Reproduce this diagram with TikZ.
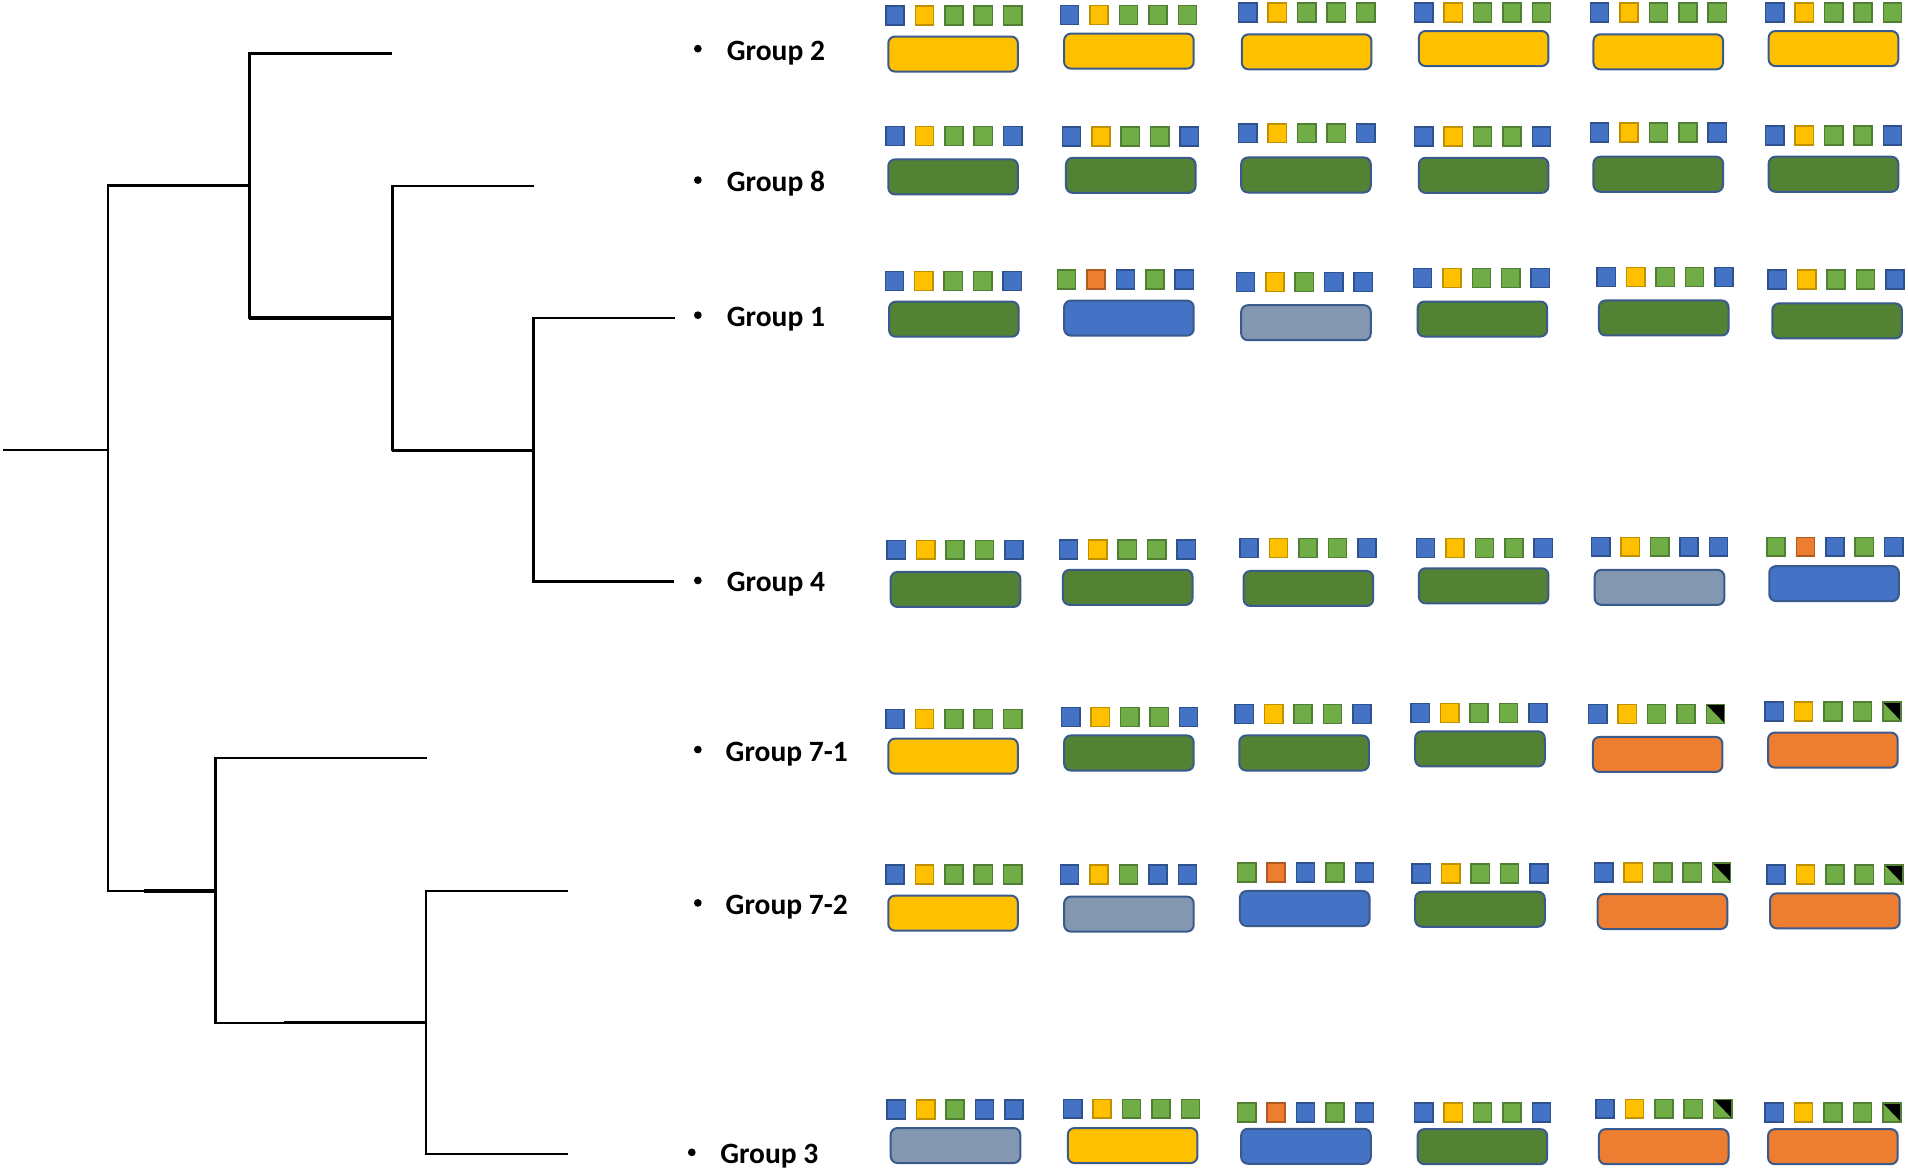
\documentclass[tikz,border=0pt]{standalone}
\usepackage{fontspec}
\setmainfont{Carlito}
\definecolor{fB}{HTML}{4472C4}\definecolor{bB}{HTML}{2F528F}
\definecolor{fY}{HTML}{FFC000}\definecolor{bY}{HTML}{BF9000}
\definecolor{fG}{HTML}{70AD47}\definecolor{bG}{HTML}{507E32}
\definecolor{fO}{HTML}{ED7D31}\definecolor{bO}{HTML}{AE5A21}
\definecolor{rY}{HTML}{FFC000}\definecolor{rG}{HTML}{548235}
\definecolor{rB}{HTML}{4472C4}\definecolor{rS}{HTML}{8497B0}
\definecolor{rO}{HTML}{ED7D31}\definecolor{rE}{HTML}{3A5A8C}
\tikzset{
  lnk/.style={line width=0.95pt, black},
  lnkb/.style={line width=1.35pt, black},
  lbl/.style={anchor=base west, inner sep=0pt, font=\fontsize{11.8}{14}\selectfont\bfseries},
  bul/.style={circle, fill=black, inner sep=0pt, minimum size=3.1pt},
  bar/.style={draw=rE, line width=0.8pt, rounded corners=2.7pt},
  cB/.style={fill=fB, draw=bB, line width=0.6pt},
  cY/.style={fill=fY, draw=bY, line width=0.6pt},
  cG/.style={fill=fG, draw=bG, line width=0.6pt},
  cO/.style={fill=fO, draw=bO, line width=0.6pt},
  cD/.style={fill=fG, draw=bG, line width=0.6pt,
    path picture={\fill[black] (path picture bounding box.north west) -- (path picture bounding box.north east) -- (path picture bounding box.south east) -- cycle;}},
}
\newcommand\cellbox[6]{%
  \foreach \c [count=\i from 0] in {#5} {
    \draw[c\c] ({#1+24.2*\i},#2) rectangle ++(15,15.5);
  }
  \draw[bar, fill=#6] (#3,#4) rectangle ++(106.5,28.8);
}
\begin{document}
\begin{tikzpicture}[x=0.4867pt,y=-0.4867pt]
\useasboundingbox (0,0) rectangle (1568,961.5);
% dendrogram
\coordinate (R0) at (2.5,370);
\coordinate (Root) at (89,370);
\coordinate (J2814) at (205,152.5);
\coordinate (J814) at (322.5,261.3);
\coordinate (J14) at (438.5,370);
\coordinate (J7) at (177,732.3);
\coordinate (J7273) at (350,840.5);
\coordinate (L2) at (322,44);
\coordinate (L8) at (438.5,152.7);
\coordinate (L1) at (555,261.3);
\coordinate (L4) at (554,478);
\coordinate (L71) at (351,622.8);
\coordinate (L72) at (466.5,732.3);
\coordinate (L3) at (466.5,948.5);
\draw[lnk] (R0) -- (Root);
\draw[lnk] (L1) -| (J14) |- (L4);
\draw[lnk] (J14) -| (J814) |- (L8);
\draw[lnk] (J814) -| (J2814) |- (L2);
\draw[lnk] (J2814) -| (Root) |- (J7);
\draw[lnk] (J7) |- (L71);
\draw[lnk] (J7) |- (J7273);
\draw[lnk] (J7273) |- (L72);
\draw[lnk] (J7273) |- (L3);
\draw[lnkb] (J814) -- (J814 -| J2814);
\draw[lnkb] (J14) -- (J14 -| J814);
\draw[lnkb] (118.5,732.3) -- (J7);
\draw[lnkb] (233,840.5) -- (J7273);
% labels
\node[bul] (b2) at (573.5,40) {};
\node[lbl] (g2) at (597,49.5) {Group 2};
\node[bul] (b8) at (573.5,148) {};
\node[lbl] (g8) at (597,157.5) {Group 8};
\node[bul] (b1) at (573.5,259) {};
\node[lbl] (g1) at (597,268.5) {Group 1};
\node[bul] (b4) at (573.5,477) {};
\node[lbl] (g4) at (597,486.5) {Group 4};
\node[bul] (b71) at (573.5,616) {};
\node[lbl] (g71) at (596,625.5) {Group 7-1};
\node[bul] (b72) at (573.5,742) {};
\node[lbl] (g72) at (596,751.5) {Group 7-2};
\node[bul] (b3) at (568.5,947) {};
\node[lbl] (g3) at (591.5,956.5) {Group 3};
% Group 2 row
\cellbox{728}{5}{730}{30}{B,Y,G,G,G}{rY}
\cellbox{871.5}{4.6}{874.5}{27.6}{B,Y,G,G,G}{rY}
\cellbox{1018}{2.5}{1020.5}{28.2}{B,Y,G,G,G}{rY}
\cellbox{1162.5}{2.5}{1166}{25.5}{B,Y,G,G,G}{rY}
\cellbox{1307}{2.5}{1309.5}{28.2}{B,Y,G,G,G}{rY}
\cellbox{1451}{2.5}{1453.5}{25.5}{B,Y,G,G,G}{rY}
% Group 8 row
\cellbox{728}{104}{730}{131}{B,Y,G,G,B}{rG}
\cellbox{873}{104.3}{876}{129.7}{B,Y,G,G,B}{rG}
\cellbox{1018}{101.8}{1020}{129.4}{B,Y,G,G,B}{rG}
\cellbox{1162.5}{104.3}{1166}{129.7}{B,Y,G,G,B}{rG}
\cellbox{1307}{101.2}{1309.5}{128.8}{B,Y,G,G,B}{rG}
\cellbox{1451}{103.6}{1453.5}{128.8}{B,Y,G,G,B}{rG}
% Group 1 row
\cellbox{727.5}{223.3}{730.6}{247.9}{B,Y,G,G,B}{rG}
\cellbox{869}{222}{874.5}{247}{G,O,B,G,B}{rB}
\cellbox{1016}{223.9}{1020}{250.8}{B,Y,G,B,B}{rS}
\cellbox{1161.5}{220.8}{1165}{247.8}{B,Y,G,G,B}{rG}
\cellbox{1312.5}{219.9}{1314}{246.9}{B,Y,G,G,B}{rG}
\cellbox{1453}{222}{1456.5}{249.3}{B,Y,G,G,B}{rG}
% Group 4 row
\cellbox{729}{444}{732}{470}{B,Y,G,G,B}{rG}
\cellbox{870.5}{443.7}{873.5}{468.3}{B,Y,G,G,B}{rG}
\cellbox{1019}{442.5}{1022}{469.2}{B,Y,G,G,B}{rG}
\cellbox{1164}{442.5}{1166}{467}{B,Y,G,G,B}{rG}
\cellbox{1308}{441.6}{1310.5}{468.3}{B,Y,G,B,B}{rS}
\cellbox{1452}{441.6}{1454}{465.2}{G,O,B,G,B}{rB}
% Group 7-1 row
\cellbox{728}{583}{730}{607}{B,Y,G,G,G}{rY}
\cellbox{872.5}{581.4}{874.5}{604.4}{B,Y,G,G,B}{rG}
\cellbox{1015}{578.9}{1018.5}{604.4}{B,Y,G,G,B}{rG}
\cellbox{1159.6}{578.3}{1163}{601}{B,Y,G,G,B}{rG}
\cellbox{1305.5}{578.9}{1309}{605.6}{B,Y,G,G,D}{rO}
\cellbox{1450.5}{577}{1453}{602}{B,Y,G,G,D}{rO}
% Group 7-2 row
\cellbox{728}{711}{730}{736}{B,Y,G,G,G}{rY}
\cellbox{871.5}{710.8}{874.5}{736.8}{B,Y,G,B,B}{rS}
\cellbox{1017}{709.2}{1019}{732.2}{G,O,B,G,B}{rB}
\cellbox{1160.5}{710}{1163}{732.8}{B,Y,G,G,B}{rG}
\cellbox{1310.5}{709.2}{1313}{734.7}{B,Y,G,G,D}{rO}
\cellbox{1452}{710.8}{1454.7}{734.1}{B,Y,G,G,D}{rO}
% Group 3 row
\cellbox{729}{904}{732}{927}{B,Y,G,B,B}{rS}
\cellbox{874}{903.4}{877.5}{927}{B,Y,G,G,G}{rY}
\cellbox{1017}{906.5}{1020}{927.6}{G,O,B,G,B}{rB}
\cellbox{1162.5}{906.5}{1165}{927.9}{B,Y,G,G,B}{rG}
\cellbox{1311.5}{903.4}{1314}{927.9}{B,Y,G,G,D}{rO}
\cellbox{1450.5}{906.5}{1453}{927.9}{B,Y,G,G,D}{rO}
\end{tikzpicture}
\end{document}
